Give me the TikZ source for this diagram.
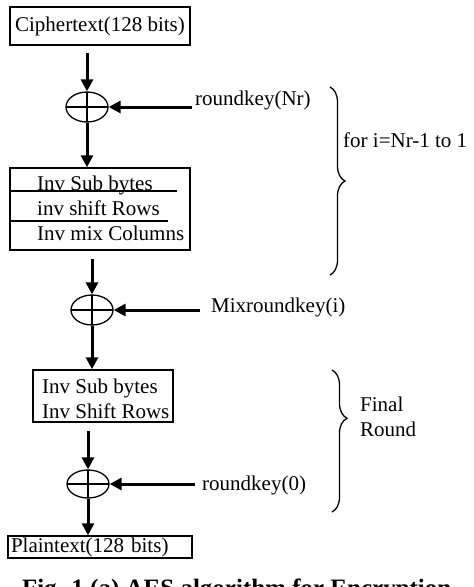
\documentclass[tikz,border=0pt]{standalone}
\usepackage{fontspec}
\setmainfont{Liberation Serif}
\usetikzlibrary{shapes.geometric,arrows.meta,decorations.pathreplacing}
\def\txt{\fontsize{21}{25}\selectfont}
\def\cap{\bfseries\fontsize{25}{30}\selectfont}
\tikzstyle{block}=[draw,rectangle,line width=1.5pt,inner sep=0pt]
\tikzstyle{xor}=[draw,ellipse,line width=1.3pt,minimum width=42pt,minimum height=30pt,
                 inner sep=0pt,path picture={
                   \draw[line width=1.3pt] (path picture bounding box.north) -- (path picture bounding box.south)
                     (path picture bounding box.west) -- (path picture bounding box.east);}]
\tikzstyle{flow}=[line width=3pt,-{Triangle[length=12pt,width=12pt]}]
\tikzstyle{key}=[anchor=west,inner sep=0pt]
\tikzstyle{brc}=[decorate,decoration={brace,amplitude=15pt},line width=1.3pt]

\begin{document}
\begin{tikzpicture}[x=1pt,y=-1pt,font=\txt]
  \clip (0,0) rectangle (474,587);

  % input block
  \node[block,minimum width=180pt,minimum height=38pt] (ct) at (100,26) {Ciphertext(128 bits)};

  % initial round key
  \node[xor] (xor0) at (87,107) {};
  \node[key] (rk0) at (195,100) {roundkey(Nr)};

  \path (ct.south -| xor0.north) edge[flow,shorten <=7pt] (xor0.north);
  \path (rk0.west |- xor0.east) edge[flow,shorten <=3pt] (xor0.east);

  % main round block from (10,168) to (190,250)
  \node[block,minimum width=180pt,minimum height=82pt] (rb) at (100,209) {};
  \node[key,align=left] (rbt) at (37,208) {Inv Sub bytes\\inv shift Rows\\Inv mix Columns};
  \draw[line width=1.3pt] (10,191) -- (177,191);
  \draw[line width=1.3pt] (10,221) -- (168,221);

  \path (xor0.south) edge[flow] (rb.north -| xor0.south);

  % round key i
  \node[xor] (xor1) at (92,310) {};
  \node[key] (rk1) at (211,307) {Mixroundkey(i)};

  \path (rb.south -| xor1.north) edge[flow,shorten <=8pt] (xor1.north);
  \path (rk1.west |- xor1.east) edge[flow,shorten <=11pt] (xor1.east);

  % loop brace
  \draw[brc] (330,87) -- (330,275);
  \node[key] (loop) at (343,140) {for i=Nr-1 to 1};

  % final round block from (33,370) to (173,422)
  \node[block,minimum width=140pt,minimum height=52pt] (fb) at (103,396) {};
  \node[key,align=left] (fbt) at (42,399) {Inv Sub bytes\\Inv Shift Rows};

  \path (xor1.south) edge[flow] (fb.north -| xor1.south);

  % last round key
  \node[xor,minimum height=28pt] (xor2) at (88,484) {};
  \node[key] (rk2) at (202,485) {roundkey(0)};

  \path (fb.south -| xor2.north) edge[flow,shorten <=8pt] (xor2.north);
  \path (rk2.west |- xor2.east) edge[flow,shorten <=7pt] (xor2.east);

  % final brace
  \draw[brc,decoration={aspect=0.34}] (332,370) -- (332,512);
  \node[key,align=left] (fin) at (360,417) {Final\\Round};

  % output block
  \node[block,minimum width=184pt,minimum height=22pt,text width=178pt,inner xsep=3pt,align=left]
       (pt) at (100,547) {Plaintext(128 bits)};

  \path (xor2.south) edge[flow] (pt.north -| xor2.south);

  % caption, cut by the lower edge
  \node[anchor=base west,inner sep=0pt,font=\cap] (fig) at (22,596) {Fig. 1 (a) AES algorithm for Encryption};
\end{tikzpicture}
\end{document}
